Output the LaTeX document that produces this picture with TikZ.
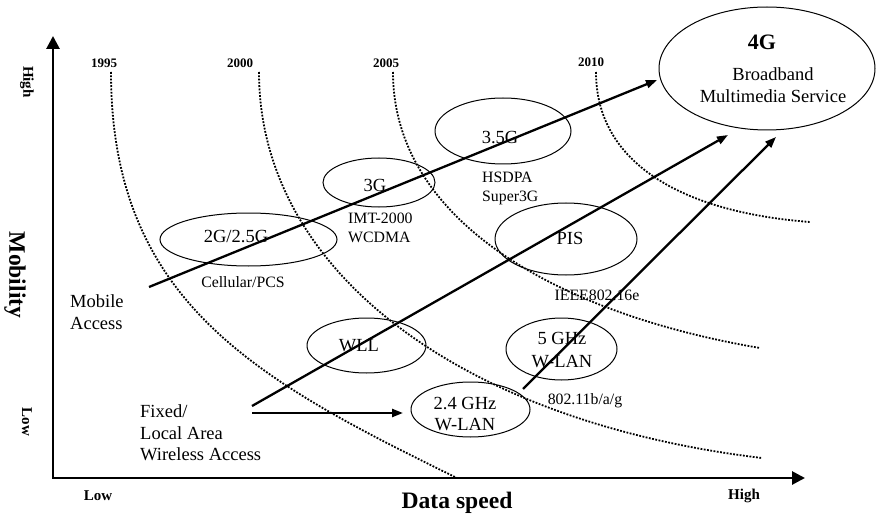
\documentclass[tikz,border=0pt]{standalone}
\usepackage{fontspec}
\setmainfont{Liberation Serif}
\usetikzlibrary{arrows.meta,shapes.geometric}
\begin{document}
\begin{tikzpicture}[x=1pt,y=-1pt,
  ell/.style={draw, ellipse, line width=1pt, inner sep=0pt},
  big/.style={inner sep=0pt, font=\fontsize{18.5}{21.5}\selectfont},
  small/.style={inner sep=0pt, font=\fontsize{15.8}{19}\selectfont},
  yr/.style={inner sep=0pt, font=\bfseries\fontsize{13}{15}\selectfont},
  axl/.style={inner sep=0pt, font=\bfseries\fontsize{15}{17}\selectfont},
  ttl/.style={inner sep=0pt, font=\bfseries\fontsize{23.6}{26}\selectfont},
  era/.style={line width=1.8pt, dash pattern=on 1.8pt off 1.5pt},
  flow/.style={line width=2.3pt, -{Triangle[length=11pt,width=8pt]}},
  axisline/.style={line width=2.8pt, line join=miter, {Triangle[length=13pt,width=13pt]}-{Triangle[length=13pt,width=13pt]}}
]
\useasboundingbox (0,0) rectangle (876,516);
\fill[white] (0,0) rectangle (876,516);

% era curves
\draw[era] (111,72) .. controls (111,302) and (257,380) .. (457,478);
\draw[era] (259,72) .. controls (259,272) and (462,422) .. (762,458);
\draw[era] (393,72) .. controls (393,222) and (560,314) .. (760,348);
\draw[era] (596,72) .. controls (596,162) and (680,212) .. (810,222);

% year labels
\node[yr] (y1995) at (104,63) {1995};
\node[yr] (y2000) at (240,63) {2000};
\node[yr] (y2005) at (386,63) {2005};
\node[yr] (y2010) at (591,62) {2010};

% axes
\coordinate (ytop) at (53,36);
\coordinate (orig) at (53,478);
\coordinate (xend) at (805,478);
\draw[axisline] (ytop) -- (orig) -- (xend);

\node[axl, rotate=-90] (yhigh) at (27,82) {High};
\node[axl, rotate=-90] (ylow) at (27,422) {Low};
\node[ttl, rotate=-90] (ymob) at (15,275) {Mobility};
\node[axl] (xlow) at (98,496) {Low};
\node[axl] (xhigh) at (744,496) {High};
\node[ttl] (xdata) at (457,503) {Data speed};

% ellipses
\node[ell, minimum width=177pt, minimum height=53pt] (e2g) at (248.5,239.5) {};
\node[ell, minimum width=112pt, minimum height=49pt] (e3g) at (379,182.5) {};
\node[ell, minimum width=136pt, minimum height=66pt] (e35g) at (503,131) {};
\node[ell, minimum width=142pt, minimum height=72pt] (epis) at (566,239) {};
\node[ell, minimum width=119pt, minimum height=55pt] (ewll) at (366.5,345.5) {};
\node[ell, minimum width=111pt, minimum height=62pt] (e5g) at (561.5,349) {};
\node[ell, minimum width=119pt, minimum height=55pt] (e24) at (470.5,409.5) {};
\node[ell, minimum width=216pt, minimum height=123pt] (e4g) at (767,68.5) {};

% ellipse texts
\node[big] (t2g) at (236,237) {2G/2.5G};
\node[small] (tcell) at (243,282) {Cellular/PCS};
\node[big] (t3g) at (375,185) {3G};
\node[small, align=left, anchor=west] (timt) at (348,228) {IMT-2000\\WCDMA};
\node[big] (t35g) at (500,138) {3.5G};
\node[small, align=left, anchor=west] (thsd) at (482,188) {HSDPA\\Super3G};
\node[big] (tpis) at (570,238) {PIS};
\node[small] (tieee) at (597,295) {IEEE802.16e};
\node[big] (twll) at (359,346) {WLL};
\node[big, align=center, font=\fontsize{18.5}{23}\selectfont] (t5g) at (562,350) {5 GHz\\W-LAN};
\node[small] (t80211) at (585,401) {802.11b/a/g};
\node[big, align=center] (t24) at (465,414) {2.4 GHz\\W-LAN};
\node[ttl, font=\bfseries\fontsize{22}{24}\selectfont] (t4g) at (762,42) {4G};
\node[big, align=center] (tbb) at (773,85) {Broadband\\Multimedia Service};

% access texts
\node[big, align=left, anchor=west] (tmob) at (70,312) {Mobile\\Access};
\node[big, align=left, anchor=west] (tfix) at (140,433) {Fixed/\\Local Area\\Wireless Access};

% flow arrows
\coordinate (a1s) at (149,287);
\coordinate (a1e) at (657,80);
\coordinate (a2s) at (252,406);
\coordinate (a2e) at (728,135);
\coordinate (a3s) at (252,413);
\coordinate (a3e) at (403,413);
\coordinate (a4s) at (523,389);
\coordinate (a4e) at (776,137);
\draw[flow] (a1s) -- (a1e);
\draw[flow] (a2s) -- (a2e);
\draw[flow] (a3s) -- (a3e);
\draw[flow] (a4s) -- (a4e);
\end{tikzpicture}
\end{document}
